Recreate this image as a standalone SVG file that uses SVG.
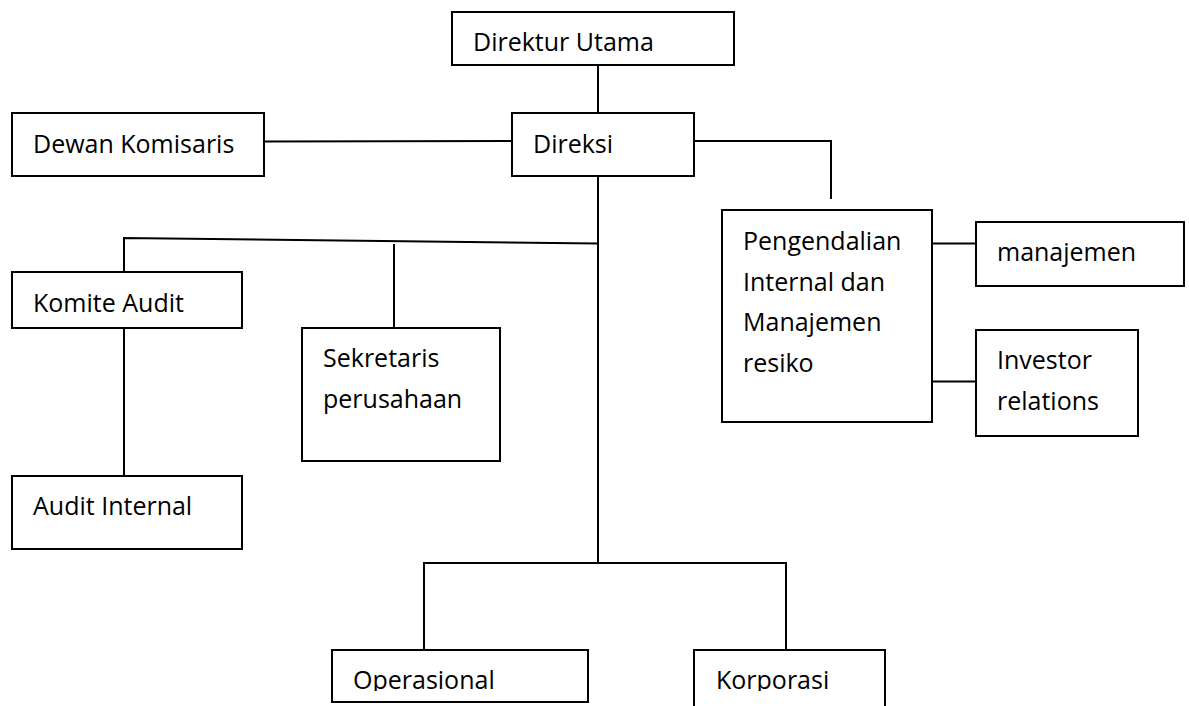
<svg xmlns="http://www.w3.org/2000/svg" width="1189" height="706" viewBox="0 0 1189 706">
<style>
.box{fill:#fff;stroke:#000;stroke-width:2}
.ln{fill:none;stroke:#000;stroke-width:2}
text{font-family:"Open Sans","Noto Sans","Liberation Sans",sans-serif;font-size:25px;fill:#000}
</style>
<defs>
<clipPath id="clipOp"><rect x="332" y="650" width="256" height="41"/></clipPath>
<clipPath id="clipKo"><rect x="694" y="650" width="191" height="41"/></clipPath>
</defs>
<rect width="1189" height="706" fill="#fff"/>
<g id="connectors">
<line class="ln" x1="598" y1="65" x2="598" y2="113"/>
<line class="ln" x1="264" y1="141.5" x2="512" y2="141"/>
<polyline class="ln" points="694,141 831,141 831,199"/>
<line class="ln" x1="598" y1="176" x2="598" y2="563"/>
<polyline class="ln" points="124,272 124,238 598,243.5"/>
<line class="ln" x1="394" y1="244" x2="394" y2="328"/>
<line class="ln" x1="124" y1="328" x2="124" y2="476"/>
<polyline class="ln" points="424,650 424,563 786,563 786,650"/>
<line class="ln" x1="932" y1="243.5" x2="976" y2="243.5"/>
<line class="ln" x1="932" y1="381.5" x2="976" y2="381.5"/>
</g>
<g id="direktur-utama"><rect class="box" x="452" y="12" width="282" height="53"/><text x="473" y="51">Direktur Utama</text></g>
<g id="direksi"><rect class="box" x="512" y="113" width="182" height="63"/><text x="533" y="153">Direksi</text></g>
<g id="dewan-komisaris"><rect class="box" x="12" y="113" width="252" height="63"/><text x="33" y="153">Dewan Komisaris</text></g>
<g id="komite-audit"><rect class="box" x="12" y="272" width="230" height="56"/><text x="33" y="312">Komite Audit</text></g>
<g id="audit-internal"><rect class="box" x="12" y="476" width="230" height="73"/><text x="33" y="515">Audit Internal</text></g>
<g id="sekretaris"><rect class="box" x="302" y="328" width="198" height="133"/><text x="323" y="367">Sekretaris</text><text x="323" y="408">perusahaan</text></g>
<g id="pengendalian"><rect class="box" x="722" y="210" width="210" height="212"/><text x="743" y="250">Pengendalian</text><text x="743" y="291">Internal dan</text><text x="743" y="331">Manajemen</text><text x="743" y="372">resiko</text></g>
<g id="manajemen"><rect class="box" x="976" y="222" width="208" height="64"/><text x="997" y="261">manajemen</text></g>
<g id="investor"><rect class="box" x="976" y="330" width="162" height="106"/><text x="997" y="369">Investor</text><text x="997" y="410">relations</text></g>
<g id="operasional"><rect class="box" x="332" y="650" width="256" height="52"/><text x="353" y="689" clip-path="url(#clipOp)">Operasional</text></g>
<g id="korporasi"><rect class="box" x="694" y="650" width="191" height="70"/><text x="716" y="689" clip-path="url(#clipKo)">Korporasi</text></g>
</svg>
